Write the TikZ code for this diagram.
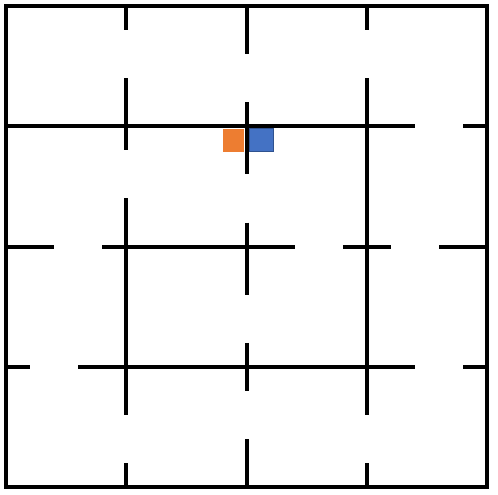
\documentclass[tikz,border=0pt]{standalone}
\usepackage{tikz}
\definecolor{mazeorange}{HTML}{ED7D31}
\definecolor{mazeblue}{HTML}{4472C4}
\definecolor{mazeblueline}{HTML}{2F528F}
\tikzset{
  wall/.style={line width=1.9pt, black},
  outerwall/.style={line width=2pt, black},
}

\begin{document}
\begin{tikzpicture}[x=2cm, y=-2cm]
\useasboundingbox (-0.05,-0.05) rectangle (4.09,4.065);
% the two markers
\fill[mazeorange] (1.8,1.02) rectangle (1.98,1.21);
\filldraw[fill=mazeblue, draw=mazeblueline, line width=0.3pt] (2.02,1.02) rectangle (2.22,1.21);
% outer walls
\draw[outerwall] (0,0) rectangle (4,4);
% vertical walls
\draw[wall] (1,0) -- (1,0.2) (1,0.6) -- (1,1.2) (1,1.6) -- (1,3.4) (1,3.8) -- (1,4);
\draw[wall] (2,0) -- (2,0.4) (2,0.8) -- (2,1.4) (2,1.8) -- (2,2.4) (2,2.8) -- (2,3.2) (2,3.6) -- (2,4);
\draw[wall] (3,0) -- (3,0.2) (3,0.6) -- (3,3.4) (3,3.8) -- (3,4);
% horizontal walls
\draw[wall] (0,1) -- (3.4,1) (3.8,1) -- (4,1);
\draw[wall] (0,2) -- (0.4,2) (0.8,2) -- (2.4,2) (2.8,2) -- (3.2,2) (3.6,2) -- (4,2);
\draw[wall] (0,3) -- (0.2,3) (0.6,3) -- (3.4,3) (3.8,3) -- (4,3);
\end{tikzpicture}
\end{document}
